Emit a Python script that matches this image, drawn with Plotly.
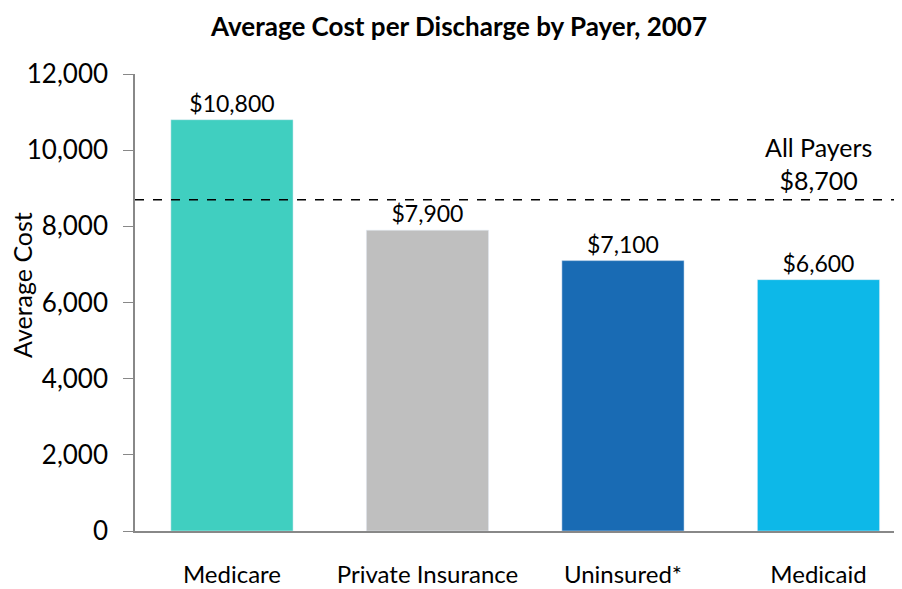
import plotly.graph_objects as go

categories = ["Medicare", "Private Insurance", "Uninsured*", "Medicaid"]
values = [10800, 7900, 7100, 6600]
labels = ["$10,800", "$7,900", "$7,100", "$6,600"]
colors = ["#40CFC0", "#BFBFBF", "#196BB4", "#0DB8E8"]
all_payers = 8700
all_payers_label = "All Payers<br>$8,700"

FONT = "Lato, Carlito, Calibri, sans-serif"

fig = go.Figure(go.Bar(
    x=list(range(len(categories))), y=values, marker_color=colors,
    width=0.625, text=labels, textposition="outside", cliponaxis=False,
    textfont=dict(size=23, color="#000"),
))

fig.add_shape(type="line", xref="paper", x0=0, x1=1, yref="y", y0=all_payers, y1=all_payers,
              line=dict(color="#000", width=1.5, dash="dash"))
fig.add_annotation(x=3, y=all_payers, yref="y", text=all_payers_label, showarrow=False,
                   yanchor="bottom", yshift=3, font=dict(size=25, color="#000"))
fig.add_annotation(xref="paper", x=0, xshift=-113, xanchor="center", yref="y", y=6460,
                   yanchor="middle", text="Average Cost", textangle=-90, showarrow=False,
                   font=dict(size=25, color="#000"))

fig.update_layout(
    width=894, height=581,
    margin=dict(l=127, r=2, t=66, b=58, autoexpand=False),
    paper_bgcolor="white", plot_bgcolor="white",
    font=dict(family=FONT, size=25, color="#000"),
    title=dict(text="<b>Average Cost per Discharge by Payer, 2007</b>", x=0.5045, xanchor="center",
               y=0.968, yanchor="middle", font=dict(size=26)),
    showlegend=False,
    xaxis=dict(range=[-0.496, 3.417], tickvals=list(range(len(categories))), ticktext=categories,
               showline=True, linecolor="#888", linewidth=1.5, ticks="", showgrid=False,
               ticklabelstandoff=21, zeroline=False, tickfont=dict(size=24), automargin=False),
    yaxis=dict(range=[0, 12000], dtick=2000, tickformat=",d", showline=True, linecolor="#888",
               linewidth=1.5, ticks="outside", ticklen=10, tickcolor="#888", showgrid=False,
               zeroline=False, ticklabelstandoff=10, tickfont=dict(size=26), automargin=False),
)

fig.write_html("out.html")
